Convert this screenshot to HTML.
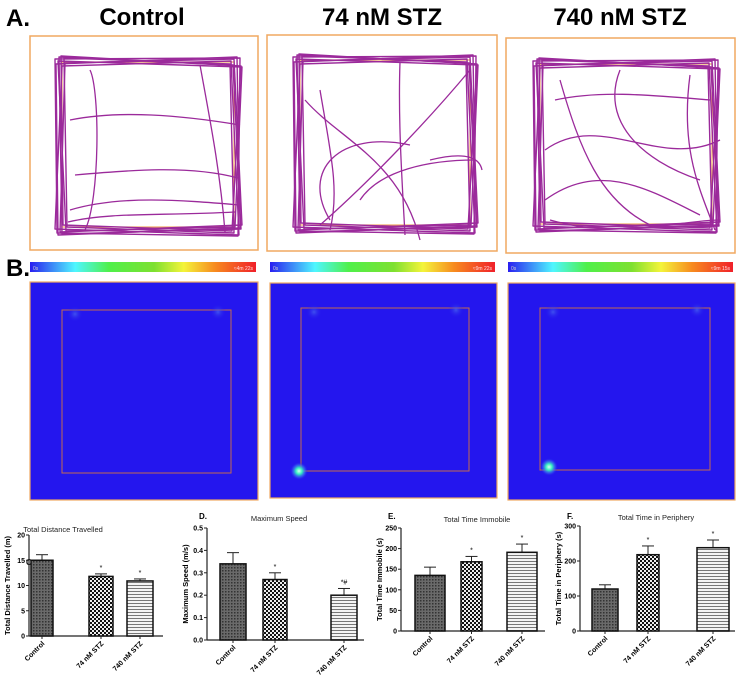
<!DOCTYPE html>
<html><head><meta charset="utf-8"><style>
html,body{margin:0;padding:0;background:#fff;width:744px;height:679px;overflow:hidden}
svg{display:block;font-family:"Liberation Sans",sans-serif}
</style></head><body>
<svg id="fig" width="744" height="679" viewBox="0 0 744 679" xmlns="http://www.w3.org/2000/svg">
<defs>
<linearGradient id="cbar" x1="0" x2="1" y1="0" y2="0">
<stop offset="0" stop-color="#2a1ff0"/><stop offset="0.2" stop-color="#4ff6ff"/><stop offset="0.35" stop-color="#4ff04a"/><stop offset="0.55" stop-color="#7ee030"/><stop offset="0.68" stop-color="#f4f43a"/><stop offset="0.82" stop-color="#f78a1f"/><stop offset="1" stop-color="#f0202a"/>
</linearGradient>
<radialGradient id="glow"><stop offset="0" stop-color="#d8fff0"/><stop offset="0.35" stop-color="#35f0c0"/><stop offset="0.7" stop-color="#3a70f0" stop-opacity="0.6"/><stop offset="1" stop-color="#2416ee" stop-opacity="0"/></radialGradient>
<radialGradient id="faint"><stop offset="0" stop-color="#4a6af0" stop-opacity="0.7"/><stop offset="1" stop-color="#2416ee" stop-opacity="0"/></radialGradient>
<pattern id="p-dots" width="3" height="3" patternUnits="userSpaceOnUse"><rect width="3" height="3" fill="#6a6a6a"/><rect width="1.5" height="1.5" fill="#333"/></pattern>
<pattern id="p-check" width="4" height="4" patternUnits="userSpaceOnUse"><rect width="4" height="4" fill="#eee"/><rect width="2" height="2" fill="#111"/><rect x="2" y="2" width="2" height="2" fill="#111"/></pattern>
<pattern id="p-stripe" width="4" height="3" patternUnits="userSpaceOnUse"><rect width="4" height="3" fill="#f4f4f4"/><rect width="4" height="1" fill="#777"/></pattern>
</defs>

<text x="6" y="26" font-size="24" font-weight="bold">A.</text>
<text x="142" y="25" font-size="24" font-weight="bold" text-anchor="middle">Control</text>
<text x="382" y="25" font-size="24" font-weight="bold" text-anchor="middle">74 nM STZ</text>
<text x="620" y="25" font-size="24" font-weight="bold" text-anchor="middle">740 nM STZ</text>
<g id="tracks"></g>

<text x="6" y="276" font-size="24" font-weight="bold">B.</text>
<g id="heat"></g>
<g id="charts"></g>
</svg>
<script>
const NS="http://www.w3.org/2000/svg";
function el(t,a,p){const e=document.createElementNS(NS,t);for(const k in a)e.setAttribute(k,a[k]);p.appendChild(e);return e;}
// ---------- Panel A: tracks ----------
const trk=document.getElementById('tracks');
const boxes=[[30,36,228,214],[267,35,230,216],[506,38,229,215]];
const inners=[[62,62,172,165],[300,60,170,165],[540,64,172,160]];
const jit=[[-6,-3,4,-5,2,6,-4,3],[-2,-5,-3,2,5,-1,1,4],[3,-4,-6,1,-2,3,6,-3],[-5,2,1,-6,4,-2,-3,5],[0,-6,5,3,-4,1,2,-5],[4,1,-2,-4,6,-5,-1,2],[-3,-1,6,4,-1,-3,5,1],[1,4,-5,-2,3,5,-6,-1]];
const crosses=[
 ["M70,120 C120,110 180,115 240,125","M75,175 C130,170 190,165 238,178","M70,210 C120,195 180,200 240,205","M68,222 C110,212 160,216 235,212","M200,65 C210,120 220,170 225,232","M90,70 C100,90 100,200 85,230"],
 ["M400,62 C398,120 402,180 405,235","M305,100 C340,140 400,160 420,240","M470,70 C420,130 360,190 320,225","M330,220 C300,170 340,130 410,145","M430,160 C470,150 480,160 482,170","M360,200 C380,170 430,160 475,160","M320,90 C330,150 340,190 330,230"],
 ["M560,80 C580,150 600,200 650,225","M545,150 C600,110 660,170 720,140","M545,200 C600,160 650,190 700,215","M690,75 C680,150 700,190 715,230","M550,220 C620,240 680,220 720,220","M620,70 C600,120 640,160 700,180","M555,100 C600,90 650,95 710,100"]
];
boxes.forEach((b,i)=>{
 const g=el('g',{},trk);
 
 
 el('rect',{x:b[0],y:b[1],width:b[2],height:b[3],fill:'#fff',stroke:'#f0a860','stroke-width':1.5},g);
 const n=inners[i];
 el('rect',{x:n[0],y:n[1],width:n[2],height:n[3],fill:'none',stroke:'#f0a860','stroke-width':1.2},g);
 const x0=n[0],y0=n[1],x1=n[0]+n[2],y1=n[1]+n[3];
 jit.forEach((j,k)=>{
  const pts=[[x0+j[0]-1,y0+j[1]],[x1+j[2]+2,y0+j[3]+1],[x1+j[4]+2,y1+j[5]+3],[x0+j[6]-1,y1+j[7]+3]];
  el('polygon',{points:pts.map(p=>p.join(',')).join(' '),fill:'none',stroke:'#9b2a9b','stroke-width':1.4,'stroke-linejoin':'round'},g);
 });
 crosses[i].forEach(d=>el('path',{d:d,fill:'none',stroke:'#9b2a9b','stroke-width':1.3},g));
});
// ---------- Panel B: heatmaps ----------
const hm=document.getElementById('heat');
const hbox=[[30,282,228,218],[270,283,227,215],[508,283,227,217]];
const hin=[[62,310,169,163],[301,308,168,163],[540,308,170,162]];
const hot=[null,[299,471,9],[549,467,9]];
const labels=['≈4m 22s','≈9m 22s','≈9m 15s'];
hbox.forEach((b,i)=>{
 const g=el('g',{},hm);
 
 
 const cb=el('rect',{x:b[0],y:262,width:b[2]-2,height:10,fill:'url(#cbar)'},g);
 
 
 el('text',{x:b[0]+3,y:270,'font-size':5,fill:'#ccc'},g).textContent='0s';
 el('text',{x:b[0]+b[2]-5,y:270,'font-size':5,fill:'#fdd','text-anchor':'end'},g).textContent=labels[i];
 el('rect',{x:b[0],y:b[1],width:b[2],height:b[3],fill:'#2416ee',stroke:'#f0a860','stroke-width':1.2},g);
 el('rect',{x:hin[i][0],y:hin[i][1],width:hin[i][2],height:hin[i][3],fill:'none',stroke:'#c26a50','stroke-width':1},g);
 el('circle',{cx:hin[i][0]+13,cy:hin[i][1]+4,r:8,fill:'url(#faint)'},g);
 el('circle',{cx:hin[i][0]+hin[i][2]-13,cy:hin[i][1]+2,r:8,fill:'url(#faint)'},g);
 if(hot[i]) el('circle',{cx:hot[i][0],cy:hot[i][1],r:hot[i][2],fill:'url(#glow)'},g);
});
// ---------- Bar charts ----------
const categories=['Control','74 nM STZ','740 nM STZ'];
const distValues=[15.0,11.8,10.9];
const distErr=[1.1,0.5,0.4];
const speedValues=[0.34,0.27,0.20];
const speedErr=[0.05,0.03,0.03];
const immobileValues=[135,168,191];
const immobileErr=[20,13,20];
const periphValues=[120,218,238];
const periphErr=[12,25,22];
const distTicks=[0,5,10,15,20];
const speedTicks=['0.0','0.1','0.2','0.3','0.4','0.5'];
const immobileTicks=[0,50,100,150,200,250];
const periphTicks=[0,100,200,300];
const sigMarks=[['','*','*'],['','*','*#'],['','*','*'],['','*','*']];
const fills=['url(#p-dots)','url(#p-check)','url(#p-stripe)'];
const charts=[
 {name:'distance',label:'C.',title:'Total Distance Travelled',ytitle:'Total Distance Travelled (m)',vals:distValues,err:distErr,ticks:distTicks,max:20,ax:29,top:535,bot:636,bars:[[31,53],[89,113],[127,153]],xend:163,lx:26,ly:565,tx:63,ty:532},
 {name:'speed',label:'D.',title:'Maximum Speed',ytitle:'Maximum Speed (m/s)',vals:speedValues,err:speedErr,ticks:speedTicks,max:0.5,ax:207,top:528,bot:640,bars:[[220,246],[263,287],[331,357]],xend:364,lx:199,ly:519,tx:279,ty:521},
 {name:'immobile',label:'E.',title:'Total Time Immobile',ytitle:'Total Time Immobile (s)',vals:immobileValues,err:immobileErr,ticks:immobileTicks,max:250,ax:401,top:528,bot:631,bars:[[415,445],[461,482],[507,537]],xend:545,lx:388,ly:519,tx:477,ty:522},
 {name:'periphery',label:'F.',title:'Total Time in Periphery',ytitle:'Total Time in Periphery (s)',vals:periphValues,err:periphErr,ticks:periphTicks,max:300,ax:580,top:526,bot:631,bars:[[592,618],[637,659],[697,729]],xend:735,lx:567,ly:519,tx:656,ty:520}
];
const cg=document.getElementById('charts');
charts.forEach((c,ci)=>{
 const g=el('g',{},cg);
 
 
 const y=v=>c.bot-(v/c.max)*(c.bot-c.top);
 const t1=el('text',{x:c.lx,y:c.ly,'font-size':8,'font-weight':'bold'},g);t1.textContent=c.label;
 
 
 const t2=el('text',{x:c.tx,y:c.ty,'font-size':7.5,'text-anchor':'middle',fill:'#222'},g);t2.textContent=c.title;
 
 
 const yt=el('text',{transform:`translate(${c.ax-19},${(c.top+c.bot)/2}) rotate(-90)`,'font-size':7.5,'font-weight':'bold','text-anchor':'middle'},g);yt.textContent=c.ytitle;
 
 
 el('line',{x1:c.ax,y1:c.top,x2:c.ax,y2:c.bot,stroke:'#222','stroke-width':1.2},g);
 el('line',{x1:c.ax,y1:c.bot,x2:c.xend,y2:c.bot,stroke:'#222','stroke-width':1.2},g);
 c.ticks.forEach(t=>{
  const yy=y(parseFloat(t));
  el('line',{x1:c.ax-3,y1:yy,x2:c.ax,y2:yy,stroke:'#222'},g);
  const tl=el('text',{x:c.ax-4,y:yy+2.5,'font-size':7,'font-weight':'bold','text-anchor':'end'},g);tl.textContent=t;
  
  
 });
 c.vals.forEach((v,i)=>{
  const [x0,x1]=c.bars[i];const cx=(x0+x1)/2;
  const eTop=y(v+c.err[i]);
  el('line',{x1:cx,y1:y(v),x2:cx,y2:eTop,stroke:'#222','stroke-width':1},g);
  el('line',{x1:cx-6,y1:eTop,x2:cx+6,y2:eTop,stroke:'#222','stroke-width':1},g);
  const r=el('rect',{x:x0,y:y(v),width:x1-x0,height:c.bot-y(v),fill:fills[i],stroke:'#111','stroke-width':1.5},g);
  
  
  if(sigMarks[ci][i]){
   const s=el('text',{x:cx,y:eTop-4,'font-size':7,'text-anchor':'middle'},g);s.textContent=sigMarks[ci][i];
   
   
  }
  el('line',{x1:cx,y1:c.bot,x2:cx,y2:c.bot+3,stroke:'#222'},g);
  const xl=el('text',{transform:`translate(${cx+3},${c.bot+8}) rotate(-45)`,'font-size':7,'font-weight':'bold','text-anchor':'end'},g);xl.textContent=categories[i];
  
  
 });
});
</script>
</body></html>
